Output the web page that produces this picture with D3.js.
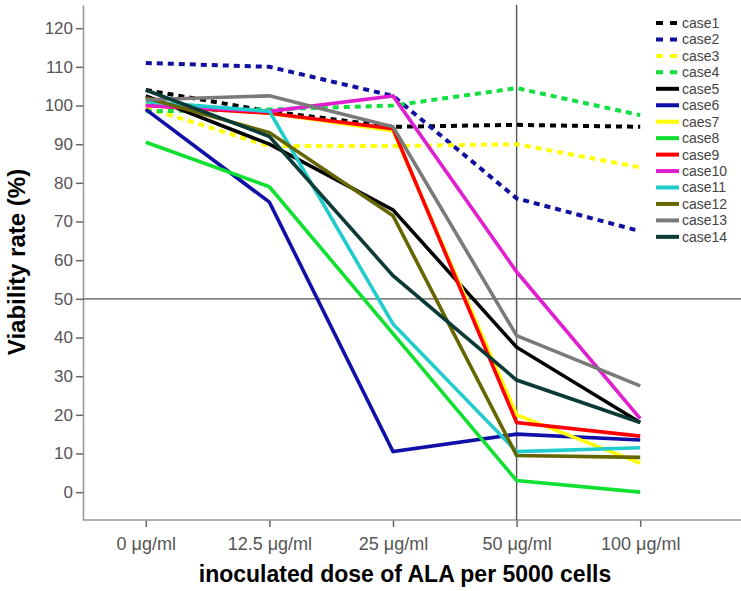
<!DOCTYPE html>
<html><head><meta charset="utf-8">
<script src="https://cdn.jsdelivr.net/npm/d3@7"></script>
<style>body{margin:0;background:#fff}svg{display:block}text{font-family:Arial,"Liberation Sans",sans-serif}</style>
</head><body>
<svg id="c" width="741" height="591"></svg>
<script>
const doses = ["0 μg/ml","12.5 μg/ml","25 μg/ml","50 μg/ml","100 μg/ml"];
const yTicks = [0,10,20,30,40,50,60,70,80,90,100,110,120];
const seriesNames = ["case1","case2","case3","case4","case5","case6","caes7","case8","case9","case10","case11","case12","case13","case14"];
const case1  = [104, 98.5, 94.5, 95, 94.5];
const case2  = [111, 110, 102.5, 76, 67.5];
const case3  = [99.5, 89.5, 89.5, 90, 84];
const case4  = [98.5, 99, 100, 104.5, 97.5];
const case5  = [102.5, 90, 73, 37.5, 18];
const case6  = [99, 75, 10.5, 15, 13.5];
const case7  = [100.5, 98, 93.5, 20, 7.5];
const case8  = [90.5, 79, 41, 3, 0];
const case9  = [100, 98, 94, 18, 14.5];
const case10 = [100, 98.5, 102.5, 57, 19];
const case11 = [101, 98.5, 43.5, 10.5, 11.5];
const case12 = [102, 93, 71.5, 9.5, 9];
const case13 = [101.5, 102.5, 94.5, 40.5, 27.5];
const case14 = [104, 92, 56, 29, 18];
const allValues = [case1,case2,case3,case4,case5,case6,case7,case8,case9,case10,case11,case12,case13,case14];
const colors = ["#000000","#1010a0","#ffff00","#10e040","#000000","#1010a8","#ffff00","#10e030","#ff0000","#e020d0","#20cccc","#666600","#7a7a7a","#0c3a36"];
const dashed = [true,true,true,true,false,false,false,false,false,false,false,false,false,false];

const svg = d3.select("#c");
const x = d3.scalePoint().domain(doses).range([84, 702]).padding(0.5);
const y = d3.scaleLinear().domain([-7.2, 126]).range([520, 5]);

// axes
const yAxis = svg.append("g").attr("transform","translate(83,0)")
  .call(d3.axisLeft(y).tickValues(yTicks).tickSize(7).tickSizeOuter(0));
yAxis.select(".domain").attr("stroke","#999").attr("stroke-width",1.6);
yAxis.selectAll(".tick line").attr("stroke","#666").attr("stroke-width",1.5);
yAxis.selectAll(".tick text").attr("font-size",17).attr("fill","#555").attr("x",-10)
  .attr("font-family",'Arial,"Liberation Sans",sans-serif');

const xAxis = svg.append("g").attr("transform","translate(0,520)")
  .call(d3.axisBottom(x).tickSize(7).tickSizeOuter(0));
xAxis.select(".domain").remove();
xAxis.selectAll(".tick line").attr("stroke","#666").attr("stroke-width",1.5);
xAxis.selectAll(".tick text").attr("font-size",18).attr("fill","#555").attr("y",17)
  .attr("font-family",'Arial,"Liberation Sans",sans-serif');
svg.append("line").attr("x1",83).attr("x2",741).attr("y1",520).attr("y2",520)
  .attr("stroke","#999").attr("stroke-width",1.6);

// reference lines
svg.append("line").attr("x1",83).attr("x2",741).attr("y1",y(50)).attr("y2",y(50))
  .attr("stroke","#555").attr("stroke-width",1.4);
svg.append("line").attr("x1",x("50 μg/ml")).attr("x2",x("50 μg/ml")).attr("y1",y(126)).attr("y2",520)
  .attr("stroke","#555").attr("stroke-width",1.4);

// series
const line = d3.line().x((d,i)=>x(doses[i])).y(d=>y(d));
allValues.forEach((vals,k)=>{
  svg.append("path").datum(vals).attr("d",line).attr("fill","none")
    .attr("stroke",colors[k]).attr("stroke-width",dashed[k]?4:3.6)
    .attr("stroke-linejoin","miter")
    .attr("stroke-dasharray",dashed[k]?"6,5":null);
});

// legend
const lg = svg.append("g");
seriesNames.forEach((n,k)=>{
  const yy = 23 + k*16.45;
  lg.append("line").attr("x1",656).attr("x2",679).attr("y1",yy).attr("y2",yy)
    .attr("stroke",colors[k]).attr("stroke-width",4)
    .attr("stroke-dasharray",dashed[k]?"7,7":null);
  lg.append("text").attr("x",682).attr("y",yy).attr("dy","0.35em")
    .attr("font-size",14).attr("fill","#444").text(n);
});

// titles
svg.append("text").attr("x",405).attr("y",582).attr("text-anchor","middle")
  .attr("font-size",23).attr("font-weight","bold").attr("fill","#000")
  .text("inoculated dose of ALA per 5000 cells");
svg.append("text").attr("transform","translate(25,262) rotate(-90)").attr("text-anchor","middle")
  .attr("font-size",24).attr("font-weight","bold").attr("fill","#000")
  .text("Viability rate (%)");
</script>
</body></html>
